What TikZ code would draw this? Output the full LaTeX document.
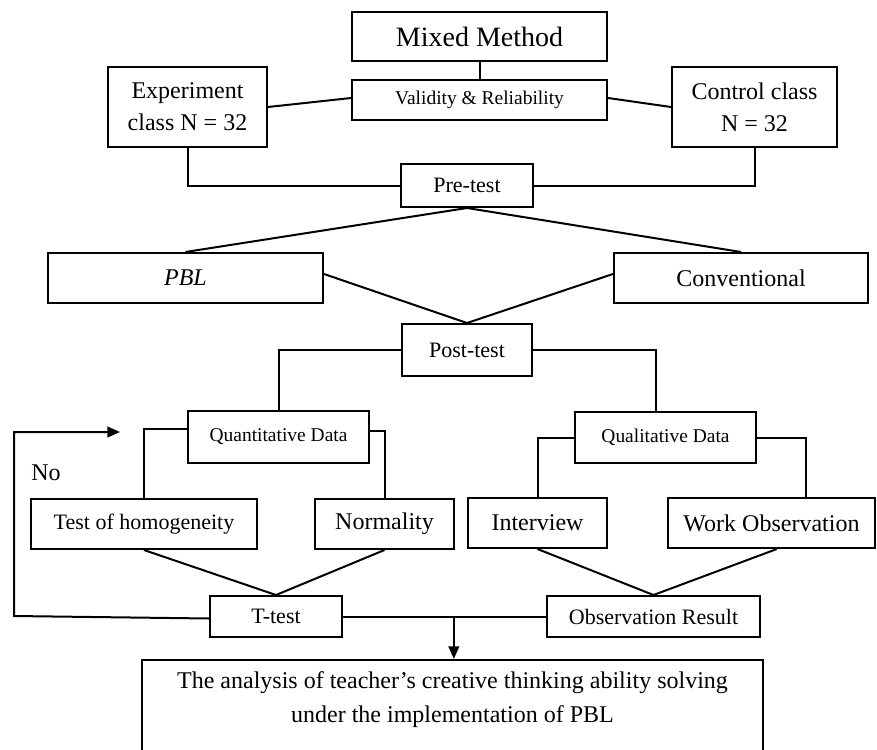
\documentclass[tikz,border=0pt]{standalone}
\usepackage{fontspec}
\setmainfont{Liberation Serif}
\usetikzlibrary{arrows.meta,calc}
\begin{document}
\begin{tikzpicture}[x=0.75pt,y=-0.75pt,
  box/.style={draw, line width=1.5pt, inner sep=0pt, align=center},
  conn/.style={line width=1.5pt},
  fhuge/.style={font=\fontsize{21}{25}\selectfont},
  fbig/.style={font=\fontsize{18}{24}\selectfont},
  fmed/.style={font=\fontsize{16.5}{20}\selectfont},
  fsmall/.style={font=\fontsize{14.6}{18}\selectfont},
  tip/.style={-{Triangle[length=9.5pt,width=8pt]}}
]
\useasboundingbox (0,0) rectangle (877,749);
\clip (0,0) rectangle (877,749);

% nodes
\node[box, fhuge, minimum width=191.25pt, minimum height=36.75pt] (mixed) at (479.5,36.5) {Mixed Method};
\node[box, fsmall, minimum width=191.25pt, minimum height=30pt] (valid) at (479.5,100) {Validity \& Reliability};
\node[box, fbig, minimum width=119.25pt, minimum height=60pt] (exp) at (187.5,107) {Experiment\\class N = 32};
\node[box, fbig, minimum width=123.75pt, minimum height=60pt] (ctrl) at (754.5,107) {Control class\\N = 32};
\node[box, fmed, minimum width=99pt, minimum height=32.25pt] (pre) at (467,185.5) {Pre-test};
\node[box, fbig, minimum width=206.25pt, minimum height=37.5pt] (pbl) at (185.5,278) {\itshape PBL};
\node[box, fbig, minimum width=190.5pt, minimum height=37.5pt] (conv) at (741,278) {Conventional};
\node[box, fmed, minimum width=97.5pt, minimum height=39pt] (post) at (467,350) {Post-test};
\node[box, fsmall, minimum width=135.75pt, minimum height=39pt] (quant) at (278.5,437) {Quantitative Data};
\node[box, fsmall, minimum width=135.75pt, minimum height=38.25pt] (qual) at (665.5,437.5) {Qualitative Data};
\node[box, fmed, minimum width=169.5pt, minimum height=37.5pt] (homog) at (144,524) {Test of homogeneity};
\node[box, fbig, minimum width=104.25pt, minimum height=37.5pt] (norm) at (384.5,524) {Normality};
\node[box, fbig, minimum width=104.25pt, minimum height=37.5pt] (interv) at (537.5,523) {Interview};
\node[box, fbig, minimum width=155.25pt, minimum height=37.5pt] (work) at (771.5,523) {Work Observation};
\node[box, fmed, minimum width=99pt, minimum height=30.75pt] (ttest) at (276,616.5) {T-test};
\node[box, fmed, minimum width=159.75pt, minimum height=30.75pt] (obs) at (653.5,616.5) {Observation Result};
\node[box, anchor=north, minimum width=465.75pt, minimum height=90pt] (final) at (452.5,659) {};
\node[font=\fontsize{18}{25.5}\selectfont, align=center] (fintext) at (452.5,700)
  {The analysis of teacher’s creative thinking ability solving\\under the implementation of PBL};
\node[fbig] (no) at (46,473) {No};

% connectors
\draw[conn] (mixed.south) -- (valid.north);
\draw[conn] (exp.east) -- ([yshift=1.5pt]valid.west);
\draw[conn] ([yshift=1.5pt]valid.east) -- (ctrl.west);
\draw[conn] (exp.south) |- (pre.west);
\draw[conn] (ctrl.south) |- (pre.east);
\draw[conn] (pbl.north) -- (pre.south) -- (conv.north);
\draw[conn] ([yshift=3pt]pbl.east) -- (post.north) -- ([yshift=3pt]conv.west);
\draw[conn] (post.west) -| (quant.north);
\draw[conn] (post.east) -| ([xshift=-7.5pt]qual.north);
\draw[conn] ([yshift=6pt]quant.west) -| (homog.north);
\draw[conn] ([yshift=4.5pt]quant.east) -| (norm.north);
\draw[conn] (qual.west) -| (interv.north);
\draw[conn] (qual.east) -| ([xshift=25.5pt]work.north);
\draw[conn] (homog.south) -- (ttest.north) -- (norm.south);
\draw[conn] (interv.south) -- (obs.north) -- ([xshift=4pt]work.south);
\draw[conn] (ttest.east) -- (obs.west);
\coordinate (m) at ($(ttest.east)!0.546!(obs.west)$);
\draw[conn, tip] (m) -- (m |- final.north);
\coordinate (fb1) at (14,616);
\coordinate (fb2) at (14,432);
\coordinate (fb3) at (120,432);
\draw[conn, tip] ([yshift=-1.5pt]ttest.west) -- (fb1) -- (fb2) -- (fb3);
\end{tikzpicture}
\end{document}
